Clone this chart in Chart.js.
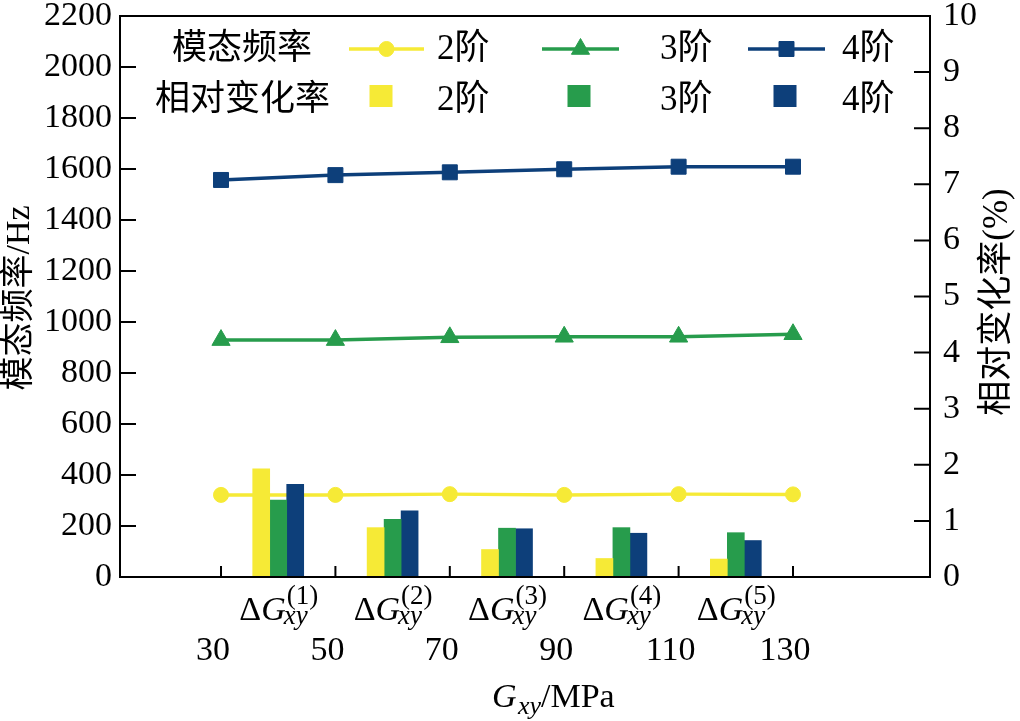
<!DOCTYPE html>
<html>
<head>
<meta charset="utf-8">
<title>模态频率与相对变化率</title>
<script src="https://cdn.jsdelivr.net/npm/chart.js@4.4.1/dist/chart.umd.min.js"></script>
<style>
  html, body { margin: 0; padding: 0; background: #fff; }
  #wrap { width: 1020px; height: 721px; position: relative; }
</style>
</head>
<body>
<div id="wrap"><canvas id="chart"></canvas></div>
<script>
// shear modulus points (MPa) for the frequency lines
const gxy = [30, 50, 70, 90, 110, 130];
const freq2 = [322, 322, 325, 322, 325, 324];
const freq3 = [929, 929, 940, 942, 942, 952];
const freq4 = [1557, 1576, 1587, 1599, 1609, 1609];

// relative change bars sit between the points
const groupPos = [40, 60, 80, 100, 120];
const groupIdx = ['(1)', '(2)', '(3)', '(4)', '(5)'];
const rate2 = [1.93, 0.88, 0.49, 0.33, 0.32];
const rate3 = [1.37, 1.03, 0.87, 0.88, 0.79];
const rate4 = [1.65, 1.18, 0.86, 0.78, 0.65];

const orderNames = ['2阶', '3阶', '4阶'];

const YELLOW = '#f6ea36';
const GREEN = '#279c4c';
const BLUE = '#0d3f7a';
const SERIF = '"Liberation Serif", "Noto Sans CJK SC", serif';

function pts(xs, ys) {
  return xs.map((x, i) => ({ x: x, y: ys[i] }));
}

const lineDs = (label, data, color, style, radius) => ({
  type: 'line',
  label: label,
  data: pts(gxy, data),
  yAxisID: 'y',
  borderColor: color,
  backgroundColor: color,
  borderWidth: 3.5,
  pointStyle: style,
  pointRadius: radius,
  pointHoverRadius: radius,
  pointBorderWidth: 1,
  tension: 0,
  order: 1
});

const barDs = (label, data, color) => ({
  type: 'bar',
  label: label,
  data: pts(groupPos, data),
  yAxisID: 'y1',
  backgroundColor: color,
  borderWidth: 0,
  barThickness: 17,
  order: 0
});

function drawDG(ctx, cx, base, idx) {
  ctx.font = '34px ' + SERIF;
  const wD = ctx.measureText('Δ').width;
  ctx.font = 'italic 34px ' + SERIF;
  const wG = ctx.measureText('G').width;
  ctx.font = '27px ' + SERIF;
  const wSup = ctx.measureText(idx).width;
  ctx.font = 'italic 27px ' + SERIF;
  const wSub = ctx.measureText('xy').width;
  const total = wD + wG + Math.max(wSup, wSub);
  let x = cx - total / 2;
  ctx.textAlign = 'left';
  ctx.textBaseline = 'alphabetic';
  ctx.font = '34px ' + SERIF;
  ctx.fillText('Δ', x, base);
  x += wD;
  ctx.font = 'italic 34px ' + SERIF;
  ctx.fillText('G', x, base);
  x += wG + 1;
  ctx.font = '27px ' + SERIF;
  ctx.fillText(idx, x, base - 16);
  ctx.font = 'italic 27px ' + SERIF;
  ctx.fillText('xy', x - 3, base + 4);
}

const decor = {
  id: 'decor',
  afterDraw(chart) {
    const ctx = chart.ctx;
    const a = chart.chartArea;
    const sx = chart.scales.x, sy = chart.scales.y, sr = chart.scales.y1;
    ctx.save();
    ctx.strokeStyle = '#000';
    ctx.fillStyle = '#000';
    ctx.lineWidth = 2;
    ctx.strokeRect(a.left, a.top, a.right - a.left, a.bottom - a.top);

    // inward tick marks
    ctx.beginPath();
    sy.ticks.forEach(t => {
      const y = sy.getPixelForValue(t.value);
      ctx.moveTo(a.left, y); ctx.lineTo(a.left + 16, y);
    });
    sr.ticks.forEach(t => {
      const y = sr.getPixelForValue(t.value);
      ctx.moveTo(a.right, y); ctx.lineTo(a.right - 16, y);
    });
    gxy.forEach(v => {
      const x = sx.getPixelForValue(v);
      ctx.moveTo(x, a.bottom); ctx.lineTo(x, a.bottom - 11);
    });
    ctx.stroke();

    // x tick labels
    ctx.font = '34px ' + SERIF;
    ctx.textAlign = 'center';
    ctx.textBaseline = 'middle';
    gxy.forEach(v => {
      ctx.fillText(String(v), sx.getPixelForValue(v) - 8, a.bottom + 74);
    });

    // group labels
    groupPos.forEach((v, i) => drawDG(ctx, sx.getPixelForValue(v), a.bottom + 43, groupIdx[i]));

    // x title
    ctx.textAlign = 'left';
    ctx.textBaseline = 'alphabetic';
    ctx.font = 'italic 34px ' + SERIF;
    ctx.fillText('G', 492, 707);
    ctx.font = 'italic 26px ' + SERIF;
    ctx.fillText('xy', 518, 714);
    ctx.font = '34px ' + SERIF;
    ctx.fillText('/MPa', 541, 707);

    // y titles
    ctx.textAlign = 'center';
    ctx.textBaseline = 'middle';
    ctx.font = '34px ' + SERIF;
    ctx.save();
    ctx.translate(20, 298);
    ctx.rotate(-Math.PI / 2);
    ctx.fillText('模态频率/Hz', 0, 0);
    ctx.restore();
    ctx.save();
    ctx.translate(998, 302);
    ctx.rotate(-Math.PI / 2);
    ctx.font = '35px ' + SERIF;
    ctx.fillText('相对变化率(%)', 0, 0);
    ctx.restore();

    // legend
    ctx.textAlign = 'left';
    ctx.font = '35px ' + SERIF;
    ctx.fillText('模态频率', 172, 50);
    ctx.fillText('相对变化率', 155, 101);
    const lines = [
      { c: YELLOW, x0: 349, x1: 424, style: 'circle', r: 7.5, tx: 437 },
      { c: GREEN, x0: 542, x1: 619, style: 'triangle', r: 10.5, tx: 660 },
      { c: BLUE, x0: 748, x1: 825, style: 'rect', r: 10.6, tx: 842 }
    ];
    const sqX = [381, 579, 785];
    lines.forEach((l, i) => {
      ctx.strokeStyle = l.c;
      ctx.fillStyle = l.c;
      ctx.lineWidth = 3.5;
      ctx.beginPath();
      ctx.moveTo(l.x0, 49); ctx.lineTo(l.x1, 49);
      ctx.stroke();
      ctx.lineWidth = 1;
      Chart.helpers.drawPoint(ctx, { pointStyle: l.style, radius: l.r, rotation: 0, borderWidth: 1 }, (l.x0 + l.x1) / 2, 49);
      ctx.fillRect(sqX[i] - 11.5, 85, 23, 22);
      ctx.fillStyle = '#000';
      ctx.fillText(orderNames[i], l.tx, 50);
      ctx.fillText(orderNames[i], l.tx, 101);
    });
    ctx.restore();
  }
};

const PLOT_LEFT = 120, PLOT_RIGHT = 930, PLOT_TOP = 16, PLOT_BOTTOM = 577;

function pinY(s, width) {
  s.width = width;
  s.paddingTop = PLOT_TOP;
  s.paddingBottom = 16;
}

new Chart(document.getElementById('chart'), {
  data: {
    datasets: [
      lineDs('模态频率 2阶', freq2, YELLOW, 'circle', 7.5),
      lineDs('模态频率 3阶', freq3, GREEN, 'triangle', 10.5),
      lineDs('模态频率 4阶', freq4, BLUE, 'rect', 10.6),
      barDs('相对变化率 2阶', rate2, YELLOW),
      barDs('相对变化率 3阶', rate3, GREEN),
      barDs('相对变化率 4阶', rate4, BLUE)
    ]
  },
  options: {
    responsive: true,
    maintainAspectRatio: false,
    devicePixelRatio: 1,
    animation: false,
    layout: { padding: 0 },
    plugins: { legend: { display: false }, tooltip: { enabled: false } },
    scales: {
      x: {
        type: 'linear',
        offset: false,
        min: 12.34,
        max: 153.95,
        grid: { display: false, offset: false },
        border: { display: false },
        ticks: { display: false },
        afterFit(s) { s.height = 721 - PLOT_BOTTOM; }
      },
      y: {
        position: 'left',
        min: 0,
        max: 2200,
        grid: { display: false },
        border: { display: false },
        ticks: {
          stepSize: 200,
          color: '#000',
          padding: 0,
          font: { family: SERIF, size: 34, lineHeight: 1 },
          callback: v => String(v)
        },
        afterFit(s) { pinY(s, PLOT_LEFT); }
      },
      y1: {
        position: 'right',
        min: 0,
        max: 10,
        grid: { display: false },
        border: { display: false },
        ticks: {
          stepSize: 1,
          color: '#000',
          padding: 5,
          font: { family: SERIF, size: 34, lineHeight: 1 },
          callback: v => String(v)
        },
        afterFit(s) { pinY(s, 1020 - PLOT_RIGHT); }
      }
    }
  },
  plugins: [decor]
});
</script>
</body>
</html>
